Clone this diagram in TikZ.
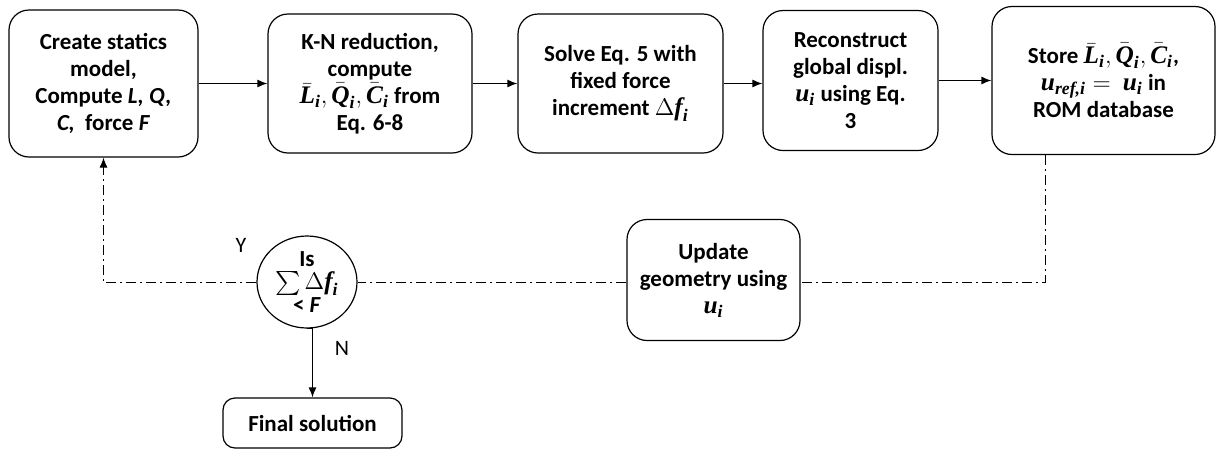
\documentclass[tikz,border=0pt]{standalone}
\usepackage{fontspec}
\setmainfont{Carlito}
\newfontfamily\mvfont[Scale=1.1]{Liberation Serif}
\usepackage{amsmath}
\newcommand{\mv}[1]{\text{\mvfont\bfseries\itshape #1}}
\usetikzlibrary{arrows.meta,shapes.geometric}
\begin{document}
\begin{tikzpicture}[x=0.5pt,y=-0.5pt,>={Latex[length=5pt,width=4pt]},
    box/.style={draw,line width=0.6pt,rounded corners=10pt,align=center,inner sep=2pt,
      font=\fontsize{11.5}{13.5}\selectfont\bfseries},
    loopline/.style={line width=0.5pt,dash pattern=on 5pt off 2pt on 1pt off 2pt},
    flow/.style={->,line width=0.6pt}]
  \useasboundingbox (0,0) rectangle (1216,451);

  % top row
  \node[box,minimum width=94.5pt,minimum height=73.5pt] (create) at (103.5,83.5)
    {Create statics\\ model,\\ Compute \textit{L, Q,}\\ \textit{C,}\ \ force \textit{F}};
  \node[box,minimum width=102pt,minimum height=69.5pt] (reduce) at (370,83.5)
    {K-N reduction,\\ compute\\ $\bar{\mv{L}}_{\mv{i}}, \bar{\mv{Q}}_{\mv{i}}, \bar{\mv{C}}_{\mv{i}}$ from\\ Eq. 6-8};
  \node[box,minimum width=102.5pt,minimum height=69.5pt] (solve) at (620.5,83.5)
    {Solve Eq. 5 with\\ fixed force\\ increment $\Delta\mv{f}_{\mv{i}}$};
  \node[box,minimum width=87.5pt,minimum height=70pt] (recon) at (850.5,80.5)
    {Reconstruct\\ global displ.\\ $\mv{u}_{\mv{i}}$ using Eq.\\ 3};
  \node[box,minimum width=111.5pt,minimum height=74pt] (store) at (1103.5,80.5)
    {Store $\bar{\mv{L}}_{\mv{i}}, \bar{\mv{Q}}_{\mv{i}}, \bar{\mv{C}}_{\mv{i}}$,\\ $\mv{u}_{\mv{ref,i}} =\ \mv{u}_{\mv{i}}$ in\\ ROM database};

  % loop back
  \node[box,ellipse,rounded corners=0pt,inner sep=0pt,minimum width=50pt,minimum height=46pt] (check) at (307,282)
    {Is\\[-2pt] $\sum\Delta\mv{f}_{\mv{i}}$\\[-2pt] < \textit{F}};
  \node[box,minimum width=86.5pt,minimum height=60.5pt] (update) at (713.5,280)
    {Update\\ geometry using\\ $\mv{u}_{\mv{i}}$};
  \node[box,rounded corners=6pt,minimum width=89.5pt,minimum height=25pt] (final) at (312.5,423)
    {Final solution};

  \node[font=\fontsize{11}{12}\selectfont] (yes) at (241,245) {Y};
  \node[font=\fontsize{11}{12}\selectfont] (no) at (342,348) {N};

  \coordinate (turn) at (1045,282);

  \draw[flow] (create) -- (reduce);
  \draw[flow] (reduce) -- (solve);
  \draw[flow] (solve.east) -- (solve.east -| recon.west);
  \draw[flow] (recon) -- (store);

  \draw[loopline] (store.south -| turn) -- (turn) -- (update.east |- turn);
  \draw[loopline] (update.west |- check) -- (check.east);
  \draw[loopline,->] (check.west) -| (create.south);
  \draw[flow] (check.south) -- (final.north |- check.south) -- (final.north);
\end{tikzpicture}
\end{document}
